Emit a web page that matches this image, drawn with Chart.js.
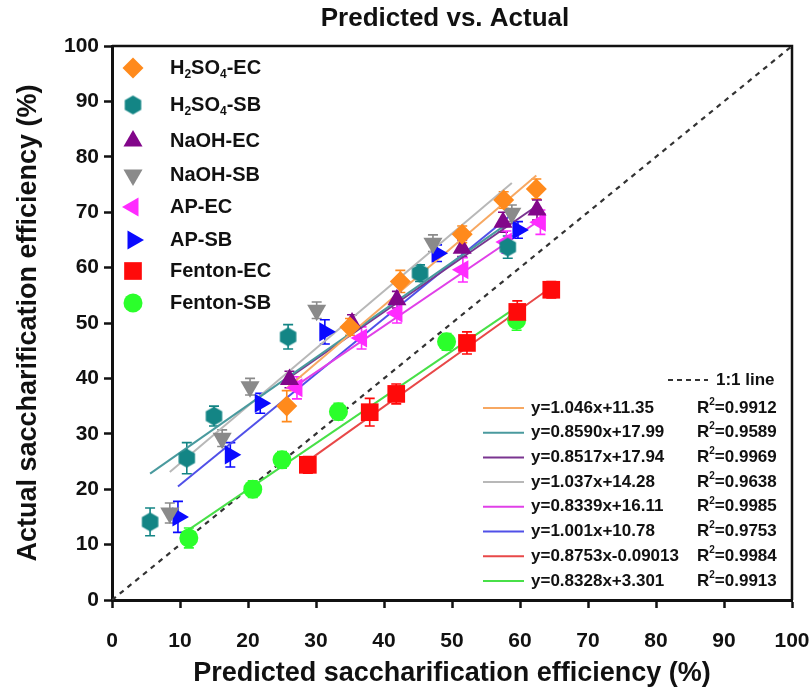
<!DOCTYPE html>
<html>
<head>
<meta charset="utf-8">
<script src="https://cdn.jsdelivr.net/npm/chart.js@4.4.0/dist/chart.umd.min.js"></script>
<style>
  html, body { margin: 0; padding: 0; background: #fff; }
  #wrap { width: 812px; height: 692px; }
</style>
</head>
<body>
<div id="wrap"><canvas id="chart"></canvas></div>
<script>
// Series names (digits after letters get drawn as subscripts)
const names = ['H2SO4-EC', 'H2SO4-SB', 'NaOH-EC', 'NaOH-SB', 'AP-EC', 'AP-SB', 'Fenton-EC', 'Fenton-SB'];

// Predicted (x), actual (y) and error bar (±) for each series
const h2so4EcX = [25.7, 35.0, 42.4, 51.5, 57.6, 62.4];
const h2so4EcY = [35.0, 49.3, 57.5, 66.0, 72.2, 74.2];
const h2so4EcErr = [2.8, 1.5, 2.0, 1.5, 1.5, 1.8];

const h2so4SbX = [5.6, 11.0, 15.0, 25.9, 45.3, 58.2];
const h2so4SbY = [14.1, 25.6, 33.2, 47.5, 59.0, 63.7];
const h2so4SbErr = [2.5, 2.8, 1.8, 2.2, 1.5, 2.0];

const naohEcX = [26.1, 35.3, 41.9, 51.5, 57.5, 62.5];
const naohEcY = [39.8, 50.0, 54.2, 63.5, 68.2, 70.4];
const naohEcErr = [1.5, 1.5, 1.5, 1.5, 1.8, 1.8];

const naohSbX = [8.5, 16.2, 20.3, 30.1, 47.2, 58.8];
const naohSbY = [15.7, 29.2, 38.5, 52.3, 64.4, 69.8];
const naohSbErr = [1.8, 1.5, 1.5, 1.5, 1.5, 1.5];

const apEcX = [27.2, 36.7, 41.9, 51.6, 58.0, 63.0];
const apEcY = [38.3, 47.3, 51.8, 59.6, 64.6, 68.2];
const apEcErr = [2.0, 2.0, 1.8, 2.2, 2.0, 2.2];

const apSbX = [9.7, 17.4, 21.8, 31.3, 47.8, 59.7];
const apSbY = [15.0, 26.2, 35.5, 48.4, 62.6, 66.8];
const apSbErr = [2.8, 2.2, 1.8, 2.2, 1.5, 1.5];

const fentonEcX = [28.8, 37.9, 41.8, 52.2, 59.6, 64.6];
const fentonEcY = [24.4, 33.9, 37.2, 46.4, 52.0, 56.0];
const fentonEcErr = [1.5, 2.5, 1.8, 2.0, 2.0, 1.5];

const fentonSbX = [11.3, 20.7, 25.0, 33.3, 49.2, 59.5];
const fentonSbY = [11.2, 20.0, 25.3, 34.0, 46.6, 50.5];
const fentonSbErr = [1.8, 1.5, 1.5, 1.5, 1.5, 1.8];

// Linear fits printed in the figure
const fitSlope = [1.046, 0.8590, 0.8517, 1.037, 0.8339, 1.001, 0.8753, 0.8328];
const fitIntercept = [11.35, 17.99, 17.94, 14.28, 16.11, 10.78, -0.09013, 3.301];
const fitLabels = ['y=1.046x+11.35', 'y=0.8590x+17.99', 'y=0.8517x+17.94', 'y=1.037x+14.28',
                   'y=0.8339x+16.11', 'y=1.001x+10.78', 'y=0.8753x-0.09013', 'y=0.8328x+3.301'];
const r2Values = ['0.9912', '0.9589', '0.9969', '0.9638', '0.9985', '0.9753', '0.9984', '0.9913'];

// 1:1 reference line and axis ticks
const identityLine = [0, 100];
const tickValues = [0, 10, 20, 30, 40, 50, 60, 70, 80, 90, 100];

const xs = [h2so4EcX, h2so4SbX, naohEcX, naohSbX, apEcX, apSbX, fentonEcX, fentonSbX];
const ys = [h2so4EcY, h2so4SbY, naohEcY, naohSbY, apEcY, apSbY, fentonEcY, fentonSbY];
const errs = [h2so4EcErr, h2so4SbErr, naohEcErr, naohSbErr, apEcErr, apSbErr, fentonEcErr, fentonSbErr];

const FONT = "'Liberation Sans', Arial, sans-serif";
const markerColors = ['#ff8a1c', '#138585', '#82068a', '#8a8a8a', '#ff2bff', '#0a0aff', '#ff0a0a', '#2bff2b'];
const fitColors = ['#f7a862', '#4a9a9e', '#7a3590', '#b8b8b8', '#e040e8', '#5050e8', '#e84848', '#48e048'];

function makeHexagon(color, r) {
    const c = document.createElement('canvas');
    c.width = c.height = Math.ceil(2 * r + 2);
    const g = c.getContext('2d');
    const m = c.width / 2;
    g.beginPath();
    for (let k = 0; k < 6; k++) {
        const a = Math.PI / 6 + k * Math.PI / 3;
        g.lineTo(m + r * Math.cos(a), m + r * Math.sin(a));
    }
    g.closePath();
    g.fillStyle = color;
    g.fill();
    return c;
}

const markerStyles = [
    { pointStyle: 'rectRot', radius: 10.5, rotation: 0 },
    { pointStyle: makeHexagon(markerColors[1], 9.5), radius: 9.5, rotation: 0 },
    { pointStyle: 'triangle', radius: 11, rotation: 0 },
    { pointStyle: 'triangle', radius: 11, rotation: 180 },
    { pointStyle: 'triangle', radius: 11, rotation: 270 },
    { pointStyle: 'triangle', radius: 11, rotation: 90 },
    { pointStyle: 'rect', radius: 12.5, rotation: 0 },
    { pointStyle: 'circle', radius: 9.5, rotation: 0 }
];

const datasets = [];

// scatter points
names.forEach((name, i) => {
    datasets.push({
        type: 'scatter',
        label: name,
        data: xs[i].map((x, j) => ({ x: x, y: ys[i][j] })),
        errors: errs[i],
        pointStyle: markerStyles[i].pointStyle,
        pointRadius: markerStyles[i].radius,
        rotation: markerStyles[i].rotation,
        backgroundColor: markerColors[i],
        borderColor: markerColors[i],
        borderWidth: 0,
        order: 1
    });
});

// fit lines, drawn over the x range of each series
names.forEach((name, i) => {
    const lo = Math.min(...xs[i]);
    const hi = Math.max(...xs[i]);
    datasets.push({
        type: 'line',
        label: fitLabels[i],
        data: [lo, hi].map(x => ({ x: x, y: fitSlope[i] * x + fitIntercept[i] })),
        borderColor: fitColors[i],
        borderWidth: 2,
        pointRadius: 0,
        fill: false,
        order: 2
    });
});

datasets.push({
    type: 'line',
    label: '1:1 line',
    data: identityLine.map(v => ({ x: v, y: v })),
    borderColor: '#333',
    borderWidth: 2.2,
    borderDash: [5, 5],
    pointRadius: 0,
    fill: false,
    order: 3
});

// draw text where a digit directly after a letter becomes a subscript
function drawSubText(ctx, text, x, y, size) {
    let cx = x;
    text.split(/(?<=[A-Za-z])(\d)/).forEach(t => {
        if (t === '') return;
        const sub = /^\d$/.test(t);
        ctx.font = 'bold ' + (sub ? Math.round(size * 0.6) : size) + 'px ' + FONT;
        ctx.fillText(t, cx, sub ? y + size * 0.35 : y);
        cx += ctx.measureText(t).width;
    });
}

const errorBars = {
    id: 'errorBars',
    beforeDatasetsDraw(chart) {
        const { ctx, scales } = chart;
        ctx.save();
        chart.data.datasets.forEach(ds => {
            if (!ds.errors) return;
            ctx.strokeStyle = ds.borderColor;
            ctx.lineWidth = 1.6;
            ds.data.forEach((p, j) => {
                const px = scales.x.getPixelForValue(p.x);
                const top = scales.y.getPixelForValue(p.y + ds.errors[j]);
                const bot = scales.y.getPixelForValue(p.y - ds.errors[j]);
                ctx.beginPath();
                ctx.moveTo(px, top); ctx.lineTo(px, bot);
                ctx.moveTo(px - 5, top); ctx.lineTo(px + 5, top);
                ctx.moveTo(px - 5, bot); ctx.lineTo(px + 5, bot);
                ctx.stroke();
            });
        });
        ctx.restore();
    }
};

const decorations = {
    id: 'decorations',
    afterDraw(chart) {
        const { ctx, chartArea } = chart;
        ctx.save();
        // box on top and right
        ctx.strokeStyle = '#111';
        ctx.lineWidth = 2.5;
        ctx.beginPath();
        ctx.moveTo(chartArea.left, chartArea.top);
        ctx.lineTo(chartArea.right, chartArea.top);
        ctx.lineTo(chartArea.right, chartArea.bottom);
        ctx.stroke();

        // title, centred over the plot area
        ctx.fillStyle = '#111';
        ctx.textAlign = 'center';
        ctx.textBaseline = 'middle';
        ctx.font = 'bold 26px ' + FONT;
        ctx.fillText('Predicted vs. Actual', (chartArea.left + chartArea.right) / 2 - 7, 19);

        // marker legend, top left
        const rowsY = [68, 105, 141, 175, 207, 240, 271, 303];
        ctx.textAlign = 'left';
        names.forEach((name, i) => {
            const st = markerStyles[i];
            ctx.fillStyle = markerColors[i];
            Chart.helpers.drawPoint(ctx, { pointStyle: st.pointStyle, radius: st.radius, rotation: st.rotation, borderWidth: 0 }, 133, rowsY[i]);
            ctx.fillStyle = '#111';
            drawSubText(ctx, name, 170, rowsY[i], 20);
        });

        // fit legend, bottom right
        ctx.font = 'bold 17px ' + FONT;
        ctx.strokeStyle = '#333';
        ctx.lineWidth = 2.2;
        ctx.setLineDash([5, 4]);
        ctx.beginPath();
        ctx.moveTo(668, 380); ctx.lineTo(708, 380);
        ctx.stroke();
        ctx.setLineDash([]);
        ctx.fillStyle = '#111';
        ctx.fillText('1:1 line', 716, 380);
        fitLabels.forEach((lab, i) => {
            const y = 408 + i * 24.7;
            ctx.strokeStyle = fitColors[i];
            ctx.lineWidth = 2;
            ctx.beginPath();
            ctx.moveTo(483, y); ctx.lineTo(524, y);
            ctx.stroke();
            ctx.fillStyle = '#111';
            ctx.font = 'bold 17px ' + FONT;
            ctx.fillText(lab, 531, y);
            ctx.fillText('R', 697, y);
            const rw = ctx.measureText('R').width;
            ctx.font = 'bold 10px ' + FONT;
            ctx.fillText('2', 697 + rw, y - 6);
            const sw = ctx.measureText('2').width;
            ctx.font = 'bold 17px ' + FONT;
            ctx.fillText('=' + r2Values[i], 697 + rw + sw, y);
        });
        ctx.restore();
    }
};

Chart.defaults.font.family = FONT;
Chart.defaults.color = '#111';

function axisOptions(title, isX) {
    return {
        type: 'linear',
        min: 0,
        max: 100,
        afterBuildTicks: scale => { scale.ticks = tickValues.map(v => ({ value: v })); },
        afterFit: scale => {
            // fixed axis boxes so the plot area lands where the reference has it
            if (isX) scale.height = 92; else scale.width = 112;
            scale.paddingLeft = 0;
            scale.paddingRight = 0;
            scale.paddingTop = 0;
            scale.paddingBottom = 0;
        },
        ticks: {
            font: { size: 21, weight: 'bold' },
            color: '#111',
            padding: isX ? 21 : 5,
            maxRotation: 0
        },
        grid: {
            drawOnChartArea: false,
            drawTicks: true,
            tickLength: 8,
            tickWidth: 2.5,
            tickColor: '#111'
        },
        border: { display: true, color: '#111', width: 3 },
        title: {
            display: true,
            text: title,
            font: { size: 27, weight: 'bold' },
            color: '#111',
            padding: isX ? { top: 0, bottom: 2 } : { top: 12, bottom: 0 }
        }
    };
}

new Chart(document.getElementById('chart'), {
    type: 'scatter',
    data: { datasets: datasets },
    options: {
        responsive: true,
        maintainAspectRatio: false,
        animation: false,
        layout: { padding: { top: 46, right: 20, left: 0, bottom: 0 } },
        plugins: {
            legend: { display: false },
            tooltip: { enabled: false },
            title: { display: false }
        },
        scales: {
            x: axisOptions('Predicted saccharification efficiency (%)', true),
            y: axisOptions('Actual saccharification efficiency (%)', false)
        }
    },
    plugins: [errorBars, decorations]
});
</script>
</body>
</html>
